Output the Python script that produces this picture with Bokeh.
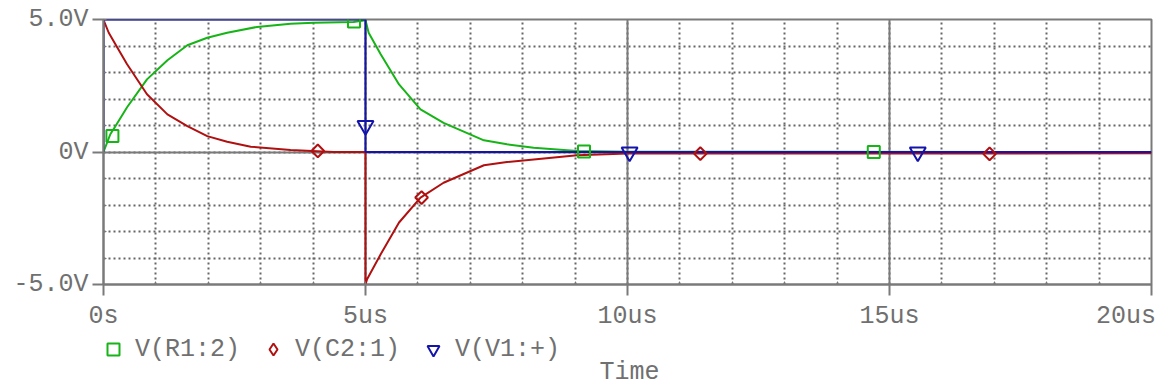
from bokeh.plotting import figure
from bokeh.layouts import column
from bokeh.models import (FixedTicker, Legend, LegendItem, Label, Range1d)
from bokeh.embed import file_html
from bokeh.resources import INLINE
import math

# ---- data (time in microseconds, volts) ----
r1_t = [0, 0.13, 0.23, 0.45, 0.83, 1.22, 1.60, 1.98, 2.36, 2.93, 3.57, 4.01, 4.77, 5.0,
        5.06, 5.29, 5.64, 6.05, 6.49, 7.26, 7.70, 8.21, 9.04, 10.0, 20.0]
r1_v = [0.0, 0.67, 0.98, 1.69, 2.74, 3.46, 4.03, 4.31, 4.50, 4.72, 4.84, 4.88, 4.91, 4.97,
        4.50, 3.69, 2.55, 1.61, 1.10, 0.44, 0.29, 0.16, 0.04, 0.01, 0.0]

c2_t = [0, 0.01, 0.10, 0.23, 0.45, 0.83, 1.22, 1.60, 1.98, 2.36, 2.81, 3.57, 4.39, 5.0,
        5.0, 5.03, 5.29, 5.64, 6.05, 6.49, 7.26, 7.70, 8.21, 9.04, 10.0, 20.0]
c2_v = [5.0, 4.94, 4.50, 4.06, 3.31, 2.18, 1.42, 0.98, 0.60, 0.39, 0.20, 0.08, 0.0, 0.0,
        -5.0, -4.80, -3.86, -2.66, -1.72, -1.16, -0.50, -0.38, -0.28, -0.12, -0.06, -0.05]

v1_t = [0, 0, 5.0, 5.0, 20.0]
v1_v = [0.0, 5.0, 5.0, 0.0, 0.0]

r1_mk_t = [0.17, 4.78, 9.17, 14.70]
r1_mk_v = [0.60, 4.92, 0.02, 0.0]
c2_mk_t = [4.09, 6.07, 11.39, 16.91]
c2_mk_v = [0.04, -1.72, -0.06, -0.07]
v1_mk_t = [5.0, 10.04, 15.54]
v1_mk_v = [1.0, 0.0, 0.0]

x_ticks = [0, 5, 10, 15, 20]
x_minor = list(range(0, 21))
x_tick_labels = ["0s", "5us", "10us", "15us", "20us"]
y_ticks = [-5, 0, 5]
y_minor = list(range(-5, 6))
y_tick_labels = ["-5.0V", "0V", "5.0V"]
series_names = ["V(R1:2)", "V(C2:1)", "V(V1:+)"]
x_label = "Time"

GREEN = "#16b416"
RED = "#b01010"
BLUE = "#1414aa"
GRAY = "#7a7a7a"
TXT = "#707070"
FONT = "Liberation Mono"
FS = "25px"

W = 1157
H = 387
H1 = 333
H2 = H - H1
LEFT = 103
RIGHT = 1151
TOP = 19
BOTTOM = 284

# ---------------- main plot ----------------
p = figure(width=W, height=H1, output_backend="svg", toolbar_location=None,
           x_range=Range1d(0, 20), y_range=Range1d(-5, 5),
           min_border_left=LEFT, min_border_right=W - RIGHT, min_border_top=TOP,
           min_border_bottom=H1 - BOTTOM)
p.background_fill_color = "white"
p.border_fill_color = "white"
p.outline_line_color = GRAY
p.outline_line_width = 2

p.xaxis.ticker = FixedTicker(ticks=x_ticks, minor_ticks=x_minor)
p.yaxis.ticker = FixedTicker(ticks=y_ticks, minor_ticks=y_minor)
xo = dict(zip(x_ticks, x_tick_labels))
xo[x_ticks[-1]] = x_tick_labels[-1] + "\u200a"
p.xaxis.major_label_overrides = xo
p.yaxis.major_label_overrides = dict(zip(y_ticks, y_tick_labels))

for ax in (p.xaxis, p.yaxis):
    ax.axis_line_color = GRAY
    ax.axis_line_width = 2
    ax.major_tick_line_color = GRAY
    ax.major_tick_line_width = 2
    ax.major_tick_out = 11
    ax.major_tick_in = 0
    ax.minor_tick_line_color = GRAY
    ax.minor_tick_in = 3
    ax.minor_tick_out = 0
    ax.major_label_text_font = FONT
    ax.major_label_text_font_size = FS
    ax.major_label_text_color = TXT
p.xaxis.major_label_standoff = 6
p.yaxis.major_label_standoff = 4

for g in (p.xgrid, p.ygrid):
    g.grid_line_color = GRAY
    g.grid_line_width = 2
    g.minor_grid_line_color = "#666666"
    g.minor_grid_line_width = 2
    g.minor_grid_line_dash = "2 3"

p.line(r1_t, r1_v, line_color=GREEN, line_width=2)
p.line(c2_t, c2_v, line_color=RED, line_width=2)
p.line(v1_t, v1_v, line_color=BLUE, line_width=2)

mk1 = dict(marker="square", size=12, fill_color=None, line_color=GREEN, line_width=2)
mk2 = dict(marker="square", size=9, angle=math.pi / 4, fill_color=None,
           line_color=RED, line_width=2)
mk3 = dict(marker="inverted_triangle", size=16, fill_color=None, line_color=BLUE,
           line_width=2)
p.scatter(r1_mk_t, r1_mk_v, **mk1)
p.scatter(c2_mk_t, c2_mk_v, **mk2)
p.scatter(v1_mk_t, v1_mk_v, **mk3)

# ---------------- legend strip + axis title (data units = canvas pixels) ----------------
q = figure(width=W, height=H2, output_backend="svg", toolbar_location=None,
           x_range=Range1d(LEFT, RIGHT), y_range=Range1d(H, H1),
           min_border_left=LEFT, min_border_right=W - RIGHT,
           min_border_top=0, min_border_bottom=0)
q.axis.visible = False
q.grid.visible = False
q.outline_line_color = None
q.background_fill_color = "white"
q.border_fill_color = "white"

# legend proxies (kept outside the visible strip; only their legend swatches show)
g1 = q.scatter([-1000], [-1000], **mk1)
g2 = q.scatter([-1000], [-1000], marker="diamond", size=12, fill_color=None,
               line_color=RED, line_width=2)
g3 = q.scatter([-1000], [-1000], **mk3)

legend = Legend(items=[LegendItem(label=series_names[0], renderers=[g1]),
                       LegendItem(label=series_names[1], renderers=[g2]),
                       LegendItem(label=series_names[2], renderers=[g3])],
                location=(98 - LEFT, H - 364), orientation="horizontal",
                glyph_width=30, glyph_height=30, label_height=30, label_standoff=7,
                spacing=18, padding=0, margin=0,
                border_line_color=None, background_fill_alpha=0,
                label_text_font=FONT, label_text_font_size=FS, label_text_color=TXT)
q.add_layout(legend)

q.add_layout(Label(x=629, y=372, text=x_label, text_align="center",
                   text_baseline="middle", text_font=FONT, text_font_size=FS,
                   text_color=TXT))

open("out.html", "w").write(file_html(column(p, q, spacing=0), INLINE))
